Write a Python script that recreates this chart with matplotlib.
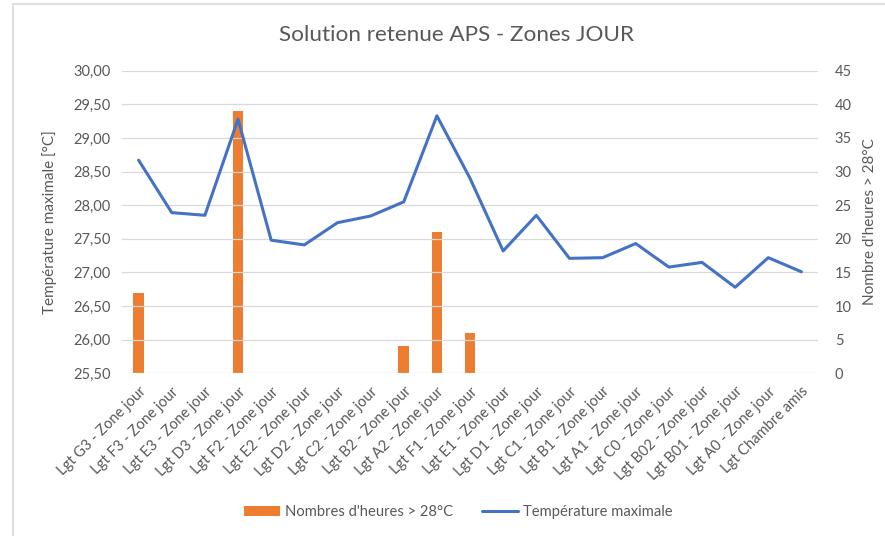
import matplotlib
matplotlib.use("Agg")
import matplotlib.pyplot as plt
import numpy as np
from matplotlib.lines import Line2D
from matplotlib.ticker import FuncFormatter

plt.rcParams["font.family"] = ["Lato", "DejaVu Sans"]

locaux = [
    "Lgt G3 - Zone jour", "Lgt F3 - Zone jour", "Lgt E3 - Zone jour",
    "Lgt D3 - Zone jour", "Lgt F2 - Zone jour", "Lgt E2 - Zone jour",
    "Lgt D2 - Zone jour", "Lgt C2 - Zone jour", "Lgt B2 - Zone jour",
    "Lgt A2 - Zone jour", "Lgt F1 - Zone jour", "Lgt E1 - Zone jour",
    "Lgt D1 - Zone jour", "Lgt C1 - Zone jour", "Lgt B1 - Zone jour",
    "Lgt A1 - Zone jour", "Lgt C0 - Zone jour", "Lgt B02 - Zone jour",
    "Lgt B01 - Zone jour", "Lgt A0 - Zone jour", "Lgt Chambre amis",
]
heures_28 = [12, 0, 0, 39, 0, 0, 0, 0, 4, 21, 6, 0, 0, 0, 0, 0, 0, 0, 0, 0, 0]
temp_max = [28.67, 27.89, 27.85, 29.28, 27.48, 27.41, 27.74, 27.84, 28.05,
            29.33, 28.40, 27.32, 27.85, 27.21, 27.22, 27.43, 27.08, 27.15,
            26.78, 27.22, 27.01]

GRIS = "#595959"
GRILLE = "#D9D9D9"

fig = plt.figure(figsize=(8.85, 5.36), dpi=100)
ax = fig.add_axes([0.1379, 0.3035, 0.7864, 0.5645])
ax2 = ax.twinx()

x = np.arange(len(locaux))

# barres sur l'axe secondaire (heures), courbe sur l'axe principal
ax2.bar(x, heures_28, width=0.32, color="#ED7D31", zorder=2,
        label="Nombres d'heures > 28°C")
ax2.set_ylim(0, 45)
ax2.set_yticks(np.arange(0, 46, 5))

ax.set_ylim(25.5, 30.0)
ax.set_yticks(np.arange(25.5, 30.01, 0.5))
ax.yaxis.set_major_formatter(FuncFormatter(lambda v, p: f"{v:.2f}".replace(".", ",")))
ax.set_xlim(-0.5, len(locaux) - 0.5)
ax.grid(axis="y", color=GRILLE, linewidth=0.9)
ax.set_axisbelow(True)

# la courbe doit passer au-dessus des barres
ax.set_zorder(ax2.get_zorder() + 1)
ax.patch.set_visible(False)
ax.plot(x, temp_max, color="#4472C4", linewidth=2.2, zorder=3,
        solid_capstyle="round", label="Température maximale")

ax.set_xticks(x)
ax.set_xticklabels(locaux, rotation=45, ha="right", rotation_mode="anchor")

for a in (ax, ax2):
    for s in a.spines.values():
        s.set_visible(False)
    a.tick_params(length=0, colors=GRIS, labelsize=10.5)

ax.tick_params(axis="x", pad=8)
ax.tick_params(axis="y", pad=8)
ax2.tick_params(axis="y", pad=12)

ax.set_ylabel("Température maximale [°C]", color=GRIS, fontsize=11, labelpad=12)
ax2.set_ylabel("Nombre d'heures > 28°C", color=GRIS, fontsize=11, labelpad=8)

fig.text(0.516, 0.935, "Solution retenue APS - Zones JOUR",
         ha="center", va="center", fontsize=16.2, color=GRIS)

h1, l1 = ax2.get_legend_handles_labels()
h2, l2 = ax.get_legend_handles_labels()
fig.legend(h1 + h2, l1 + l2, loc="center", bbox_to_anchor=(0.518, 0.045),
           ncol=2, frameon=False, fontsize=10.6, labelcolor=GRIS,
           handlelength=2.4, handletextpad=0.35, columnspacing=2.0)

# bordure de la zone graphique (haut et gauche visibles)
fig.add_artist(Line2D([13 / 885, 13 / 885], [0, 1 - 4 / 536],
                      transform=fig.transFigure, color=GRILLE, linewidth=1.2))
fig.add_artist(Line2D([13 / 885, 1], [1 - 4 / 536, 1 - 4 / 536],
                      transform=fig.transFigure, color=GRILLE, linewidth=1.2))

fig.savefig("out.png", dpi=100)
